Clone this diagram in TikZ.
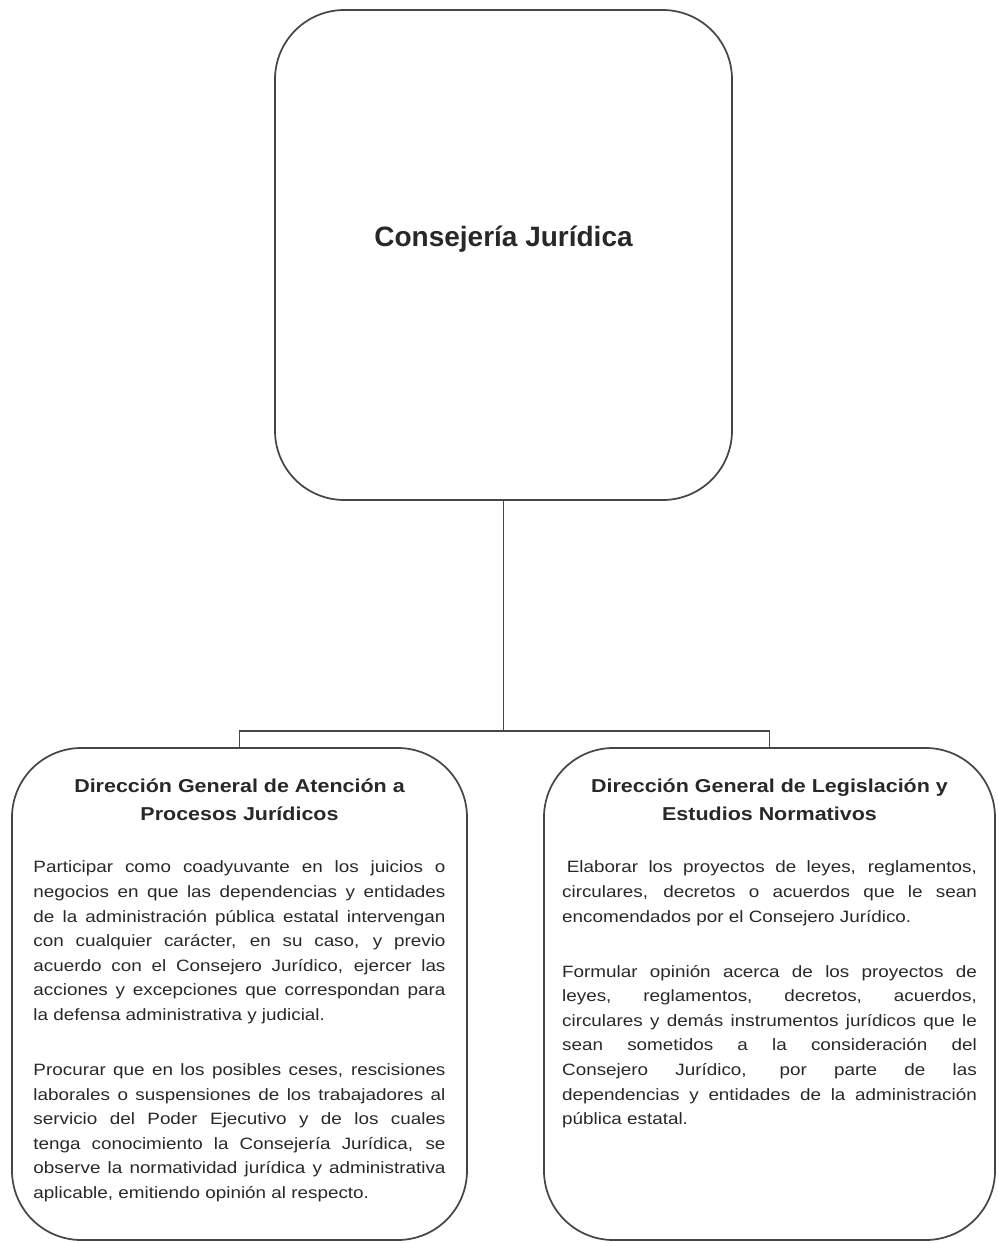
\documentclass[tikz,border=0pt]{standalone}
\usepackage{fontspec}
\setmainfont{Liberation Sans}
\newfontfamily\widesans{Liberation Sans}[FakeStretch=1.15]
\usepackage{tikz}
\usetikzlibrary{positioning}
\definecolor{framegray}{RGB}{70,70,70}
\definecolor{inkgray}{RGB}{40,40,40}
\hyphenpenalty=10000
\exhyphenpenalty=10000
\emergencystretch=2em

\begin{document}
\begin{tikzpicture}[x=0.75pt, y=-0.75pt,
    unitbox/.style={draw=framegray, line width=1.3pt, rounded corners=52pt, inner sep=0pt},
    link/.style={draw=framegray, line width=1.4pt},
    headtitle/.style={text=inkgray, inner sep=0pt,
        font=\fontsize{21pt}{25pt}\selectfont\bfseries},
    unittitle/.style={text=inkgray, inner sep=0pt, align=center,
        font=\widesans\fontsize{14pt}{21pt}\selectfont\bfseries},
    unittext/.style={text=inkgray, inner sep=0pt, align=justify,
        font=\widesans\fontsize{12.3pt}{18.45pt}\selectfont}]
    \useasboundingbox (0,0) rectangle (997,1243);

    % boxes
    \node[unitbox, minimum width=342.75pt, minimum height=367.5pt] (consejeria) at (503.5,255) {};
    \node[unitbox, minimum width=341.25pt, minimum height=369pt] (dgapj) at (239.5,994) {};
    \node[unitbox, minimum width=338.25pt, minimum height=369pt] (dglen) at (769.5,994) {};

    % texts
    \node[headtitle] (consejeriatitle) at ([yshift=12pt]consejeria.center) {Consejería Jurídica};

    \node[unittitle, anchor=north] (dgapjtitle) at ([yshift=-23.75pt]dgapj.north)
        {Dirección General de Atención a\\Procesos Jurídicos\strut};
    \node[unittext, text width=309pt, below=23.5pt of dgapjtitle] (dgapjtext) {%
        Participar como coadyuvante en los juicios o\linebreak
        negocios en que las dependencias y entidades\linebreak
        de la administración pública estatal intervengan\linebreak
        con cualquier carácter, en su caso, y previo\linebreak
        acuerdo con el Consejero Jurídico, ejercer las\linebreak
        acciones y excepciones que correspondan para\linebreak
        la defensa administrativa y judicial.\par
        \vskip 22.8pt
        Procurar que en los posibles ceses, rescisiones\linebreak
        laborales o suspensiones de los trabajadores al\linebreak
        servicio del Poder Ejecutivo y de los cuales\linebreak
        tenga conocimiento la Consejería Jurídica, se\linebreak
        observe la normatividad jurídica y administrativa\linebreak
        aplicable, emitiendo opinión al respecto.};

    \node[unittitle, anchor=north] (dglentitle) at ([yshift=-23.75pt]dglen.north)
        {Dirección General de Legislación y\\Estudios Normativos\strut};
    \node[unittext, text width=311pt, below=23.5pt of dglentitle] (dglentext) {%
        \hspace*{0.28em}Elaborar los proyectos de leyes, reglamentos,\linebreak
        circulares, decretos o acuerdos que le sean\linebreak
        encomendados por el Consejero Jurídico.\par
        \vskip 22.8pt
        Formular opinión acerca de los proyectos de\linebreak
        leyes, reglamentos, decretos, acuerdos,\linebreak
        circulares y demás instrumentos jurídicos que le\linebreak
        sean sometidos a la consideración del\linebreak
        Consejero Jurídico, por parte de las\linebreak
        dependencias y entidades de la administración\linebreak
        pública estatal.};

    % connectors
    \coordinate (split) at (503.5,731);
    \draw[link] (consejeria.south) -- (split);
    \draw[link] (dgapj.north) |- (split) -| (dglen.north);
\end{tikzpicture}
\end{document}
